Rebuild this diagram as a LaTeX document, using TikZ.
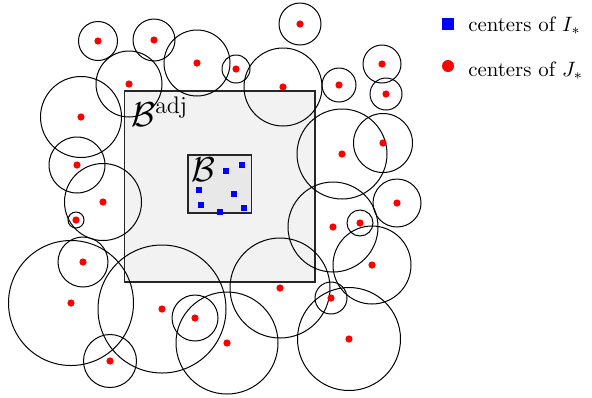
\documentclass[tikz,border=0pt]{standalone}
\usepackage{amsmath}
\begin{document}
\begin{tikzpicture}[x=0.5pt,y=-0.5pt,
  ball/.style={draw=black, line width=0.5pt},
  jcenter/.style={fill=red},
  icenter/.style={fill=blue},
  box/.style={draw=black!85, line width=0.85pt},
  legtext/.style={anchor=base west, inner sep=0, scale=1.04},
]
\useasboundingbox (0,0) rectangle (592,397);

% the adjacent box and the box itself
\path[box, fill=gray!10] (124.5,91) rectangle (315,282);
\path[box, fill=gray!18] (188,155) rectangle (251.5,213);
\node[anchor=base west, inner sep=0] (badj) at (131,126) {\LARGE $\mathcal{B}^{\mathrm{adj}}$};
\node[anchor=base west, inner sep=0] (b) at (191,181) {\LARGE $\mathcal{B}$};

% balls of J_* : centre x / centre y / radius
\foreach \cx/\cy/\r in {
  98/41/19.5, 154/40/21, 197/63/33, 129/84/33, 81/117/40.5, 77/165/28,
  103/202/38.5, 76/220/8, 83/262/25, 71/303/62.5, 110/361/26.5,
  162/309/64, 195/318/23, 227/343/51, 300/24/21, 236/69/14, 283/87/39,
  339/85/17, 382/64/19, 386/94/16, 342/154/45, 383/143/29.5,
  397/203/24, 333/227/45, 360/223/13, 372/265/39, 280/288/50,
  331/298/16, 349/339/51.5}
  {\draw[ball] (\cx,\cy) circle[radius=\r*0.5pt];}

% centres of J_*
\foreach \cx/\cy/\r in {
  98/41/19.5, 154/40/21, 197/63/33, 129/84/33, 81/117/40.5, 77/165/28,
  103/202/38.5, 76/220/8, 83/262/25, 71/303/62.5, 110/361/26.5,
  162/309/64, 195/318/23, 227/343/51, 300/24/21, 236/69/14, 283/87/39,
  339/85/17, 382/64/19, 386/94/16, 342/154/45, 383/143/29.5,
  397/203/24, 333/227/45, 360/223/13, 372/265/39, 280/288/50,
  331/298/16, 349/339/51.5}
  {\fill[jcenter] (\cx,\cy) circle[radius=1.8pt];}

% centres of I_*
\foreach \cx/\cy in {226/171, 242/165, 199/190, 234/194, 201/205, 220/212, 244/208}
  {\fill[icenter] (\cx-3,\cy-3) rectangle (\cx+3,\cy+3);}

% legend
\fill[icenter] (442,18) rectangle (454,30);
\node[legtext] (legI) at (468,31) {centers of $I_*$};
\fill[jcenter] (448,66) circle[radius=3pt];
\node[legtext] (legJ) at (468,76) {centers of $J_*$};
\end{tikzpicture}
\end{document}
